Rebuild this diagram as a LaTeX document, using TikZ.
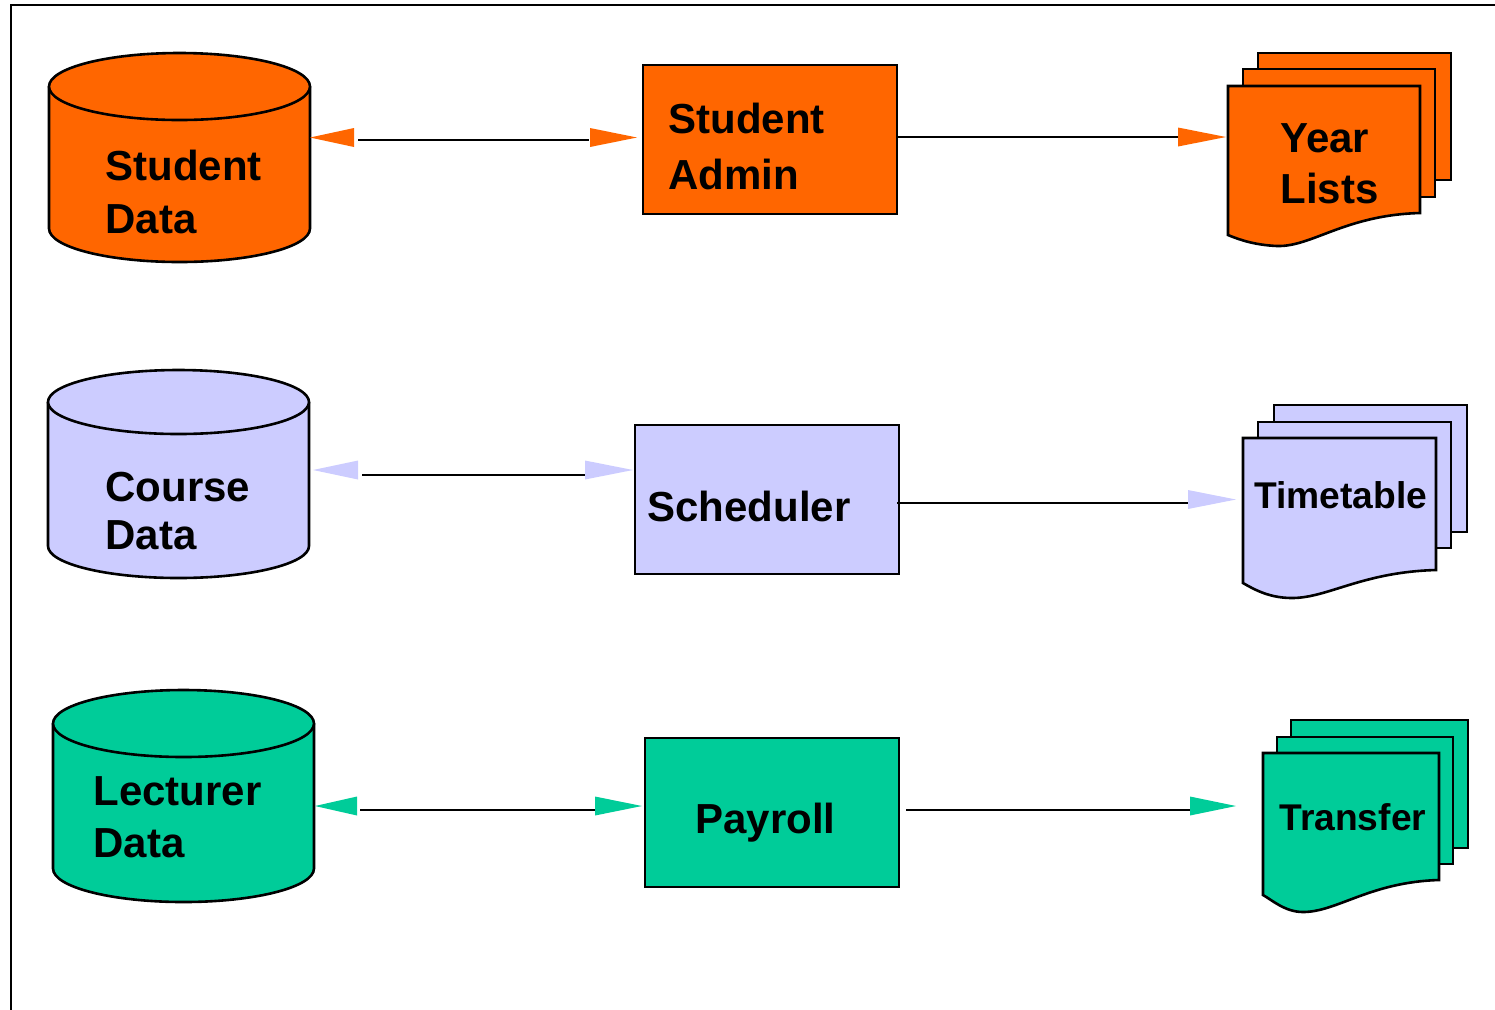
\documentclass[tikz,border=0pt]{standalone}
\usepackage{fontspec}
\setmainfont{Liberation Sans}
\definecolor{cOr}{HTML}{FF6600}
\definecolor{cLv}{HTML}{CCCCFF}
\definecolor{cGr}{HTML}{00CC99}
\newcommand\dbcyl[6]{%
  \pgfmathsetmacro\cylrx{(#2-#1)/4}%
  \pgfmathsetmacro\cylry{#5/2}%
  \pgfmathsetmacro\cylcx{(#1+#2)/2}%
  \fill[#6] (#1,#3) -- (#1,#4) arc[start angle=180,end angle=360,x radius=\cylrx pt,y radius=\cylry pt] -- (#2,#3) -- cycle;
  \draw[outline] (#1,#3) -- (#1,#4) arc[start angle=180,end angle=360,x radius=\cylrx pt,y radius=\cylry pt] -- (#2,#3);
  \filldraw[outline,fill=#6] (\cylcx,#3) ellipse[x radius=\cylrx pt,y radius=\cylry pt];
}
\newcommand\tri[4]{% tip x, base x, y, colour
  \fill[#4] (#1,#3) -- (#2,#3-9.5) -- (#2,#3+9.5) -- cycle;
}
\begin{document}
\begin{tikzpicture}[x=0.5pt,y=-0.5pt,
  outline/.style={draw=black,line width=1.3pt},
  box/.style={outline,rectangle,inner sep=0pt},
  page/.style={outline,line join=miter},
  lbl/.style={anchor=base west,inner sep=0pt,font=\bfseries\fontsize{21}{25}\selectfont},
  lbls/.style={anchor=base west,inner sep=0pt,font=\bfseries\fontsize{18.6}{22}\selectfont},
  conn/.style={draw=black,line width=1pt}]
\useasboundingbox (0,0) rectangle (1495,1009);
% frame
\draw[line width=1pt] (11,1012) -- (11,5) -- (1498,5);

% ---------- row 1 ----------
\dbcyl{49}{310}{86.5}{228.5}{33.5}{cOr}
\node[lbl] (sd1) at (105,180) {Student};
\node[lbl] (sd2) at (105,233) {Data};

\node[box,fill=cOr,minimum width=127pt,minimum height=74.5pt] (sa) at (770,139.5) {};
\node[lbl] (sa1) at (668,133) {Student};
\node[lbl] (sa2) at (668,189) {Admin};

\filldraw[page,fill=cOr] (1258,53) rectangle (1451,180);
\filldraw[page,fill=cOr] (1243,69) rectangle (1435,197);
\filldraw[page,fill=cOr] (1228,86) -- (1420,86) -- (1420,213)
  .. controls (1345,215) and (1312,247) .. (1277,246)
  .. controls (1255,245) and (1240,240) .. (1228,235) -- cycle;
\node[lbl] (yl1) at (1280,152) {Year};
\node[lbl] (yl2) at (1280,203) {Lists};

\coordinate (c1a) at (358,140); \coordinate (c1b) at (589,140);
\draw[conn] (c1a) -- (c1b);
\tri{310}{354}{137.5}{cOr}
\tri{637}{590}{137.5}{cOr}
\coordinate (c2a) at (897,137); \coordinate (c2b) at (1180,137);
\draw[conn] (c2a) -- (c2b);
\tri{1226}{1178}{137}{cOr}

% ---------- row 2 ----------
\dbcyl{48}{309}{402}{546}{32}{cLv}
\node[lbl] (cd1) at (105,501) {Course};
\node[lbl] (cd2) at (105,549) {Data};

\node[box,fill=cLv,minimum width=132pt,minimum height=74.5pt] (sc) at (767,499.5) {};
\node[lbl] (sc1) at (647,521) {Scheduler};

\filldraw[page,fill=cLv] (1274,405) rectangle (1467,532);
\filldraw[page,fill=cLv] (1258,422) rectangle (1451,548);
\filldraw[page,fill=cLv] (1243,438) -- (1436,438) -- (1436,570)
  .. controls (1362,572) and (1328,598) .. (1292,598)
  .. controls (1270,598) and (1255,590) .. (1243,583) -- cycle;
\node[lbls] (tt1) at (1254,508) {Timetable};

\coordinate (c3a) at (362,475); \coordinate (c3b) at (585,475);
\draw[conn] (c3a) -- (c3b);
\tri{313}{358}{470}{cLv}
\tri{633}{585}{470}{cLv}
\coordinate (c4a) at (897,503); \coordinate (c4b) at (1189,503);
\draw[conn] (c4a) -- (c4b);
\tri{1236}{1188}{499.5}{cLv}

% ---------- row 3 ----------
\dbcyl{53}{314}{723.5}{868.5}{33.5}{cGr}
\node[lbl] (ld1) at (93,805) {Lecturer};
\node[lbl] (ld2) at (93,857) {Data};

\node[box,fill=cGr,minimum width=127pt,minimum height=74.5pt] (pr) at (772,812.5) {};
\node[lbl] (pr1) at (695,833) {Payroll};

\filldraw[page,fill=cGr] (1291,720) rectangle (1468,848);
\filldraw[page,fill=cGr] (1277,737) rectangle (1453,864);
\filldraw[page,fill=cGr] (1263,753) -- (1439,753) -- (1439,880)
  .. controls (1370,882) and (1337,912) .. (1303,912)
  .. controls (1285,912) and (1272,900) .. (1263,895) -- cycle;
\node[lbls] (tr1) at (1279,830) {Transfer};

\coordinate (c5a) at (360,810); \coordinate (c5b) at (595,810);
\draw[conn] (c5a) -- (c5b);
\tri{315}{357}{806}{cGr}
\tri{642}{595}{806}{cGr}
\coordinate (c6a) at (906,810); \coordinate (c6b) at (1190,810);
\draw[conn] (c6a) -- (c6b);
\tri{1236}{1190}{806}{cGr}
\end{tikzpicture}
\end{document}
